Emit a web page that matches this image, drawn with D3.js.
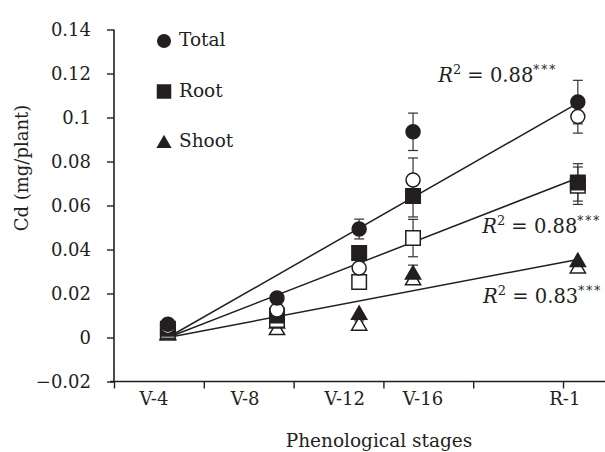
<!DOCTYPE html>
<html>
<head>
<meta charset="utf-8">
<script src="https://cdn.jsdelivr.net/npm/d3@7"></script>
<style>
  html, body { margin: 0; padding: 0; background: #fff; }
  svg { display: block; }
  text { font-family: "DejaVu Serif", "Liberation Serif", serif; fill: #231f20; }
</style>
</head>
<body>
<svg id="chart" width="605" height="452"></svg>
<script>
// ---------- data ----------
const stages = ["V-4", "V-8", "V-12", "V-16", "R-1"];
const stageX = [12.0, 36.3, 54.6, 66.6, 103.3];        // position of sampled points on the x axis
const stageLabelX = [8.9, 29.2, 51.4, 68.8, 100.4];    // position of stage labels
const xTicks = [0, 20, 40, 60, 80, 100];
const yTicks = [-0.02, 0, 0.02, 0.04, 0.06, 0.08, 0.1, 0.12, 0.14];
const yTickLabels = ["\u22120.02", "0", "0.02", "0.04", "0.06", "0.08", "0.1", "0.12", "0.14"];

const totalFilled = [0.006, 0.018, 0.0493, 0.0935, 0.107];
const totalFilledErr = [0, 0, 0.0045, 0.0085, 0.0099];
const totalOpen = [0.005, 0.0125, 0.0316, 0.0716, 0.1004];
const totalOpenErr = [0, 0, 0, 0.01, 0.0075];
const rootFilled = [0.004, 0.010, 0.0384, 0.0643, 0.0705];
const rootFilledErr = [0, 0, 0, 0.0095, 0.0085];
const rootOpen = [0.003, 0.008, 0.0252, 0.0452, 0.069];
const rootOpenErr = [0, 0, 0, 0.0085, 0.0085];
const shootFilled = [0.002, 0.007, 0.011, 0.0293, 0.035];
const shootFilledErr = [0, 0, 0, 0.0036, 0];
const shootOpen = [0.0015, 0.004, 0.006, 0.0266, 0.032];
const shootOpenErr = [0, 0, 0.0015, 0.0015, 0.0015];

// regression fits (value at V-4 and at R-1)
const fitNames = ["Total", "Root", "Shoot"];
const fitStart = [0.0, 0.0, 0.0];
const fitEnd = [0.1065, 0.0725, 0.0355];
const fitR2 = ["0.88", "0.88", "0.83"];

const legendNames = ["Total", "Root", "Shoot"];

// ---------- layout ----------
const svg = d3.select("#chart");
const x = d3.scaleLinear().domain([0, 109.35]).range([114, 605]);
const y = d3.scaleLinear().domain([-0.02, 0.14]).range([381.5, 29.5]);
const ink = "#231f20";

// axes
const yAxis = d3.axisLeft(y).tickValues(yTicks)
  .tickFormat((d, i) => yTickLabels[i]).tickSize(7).tickSizeOuter(0).tickPadding(16);
const gy = svg.append("g").attr("transform", `translate(${x(0)},0)`).call(yAxis);
gy.select(".domain").remove();
gy.append("line").attr("x1", 0).attr("x2", 0).attr("y1", y(0.14)).attr("y2", y(-0.02))
  .attr("stroke", ink).attr("stroke-width", 1.6);
gy.selectAll(".tick line").attr("stroke", ink).attr("stroke-width", 1.4);
gy.selectAll(".tick text").attr("font-size", 18).attr("fill", ink).attr("dy", "0.36em");

const xAxis = d3.axisBottom(x).tickValues(xTicks).tickFormat("").tickSize(7).tickSizeOuter(0);
const gx = svg.append("g").attr("transform", `translate(0,${y(-0.02)})`).call(xAxis);
gx.select(".domain").attr("stroke", ink).attr("stroke-width", 1.6).attr("d", `M${x(0) - 4},0H605`);
gx.selectAll(".tick line").attr("stroke", ink).attr("stroke-width", 1.4);

// stage labels
svg.append("g").selectAll("text").data(stages).join("text")
  .attr("x", (d, i) => x(stageLabelX[i])).attr("y", 405)
  .attr("text-anchor", "middle").attr("font-size", 18).text(d => d);

// axis titles
svg.append("text").attr("transform", "translate(28,168) rotate(-90)")
  .attr("text-anchor", "middle").attr("font-size", 18).text("Cd (mg/plant)");
svg.append("text").attr("x", 379).attr("y", 447)
  .attr("text-anchor", "middle").attr("font-size", 18.5).text("Phenological stages");

// regression lines
const fits = svg.append("g");
fitStart.forEach((s, i) => {
  fits.append("line")
    .attr("x1", x(stageX[0])).attr("y1", y(s))
    .attr("x2", x(stageX[4])).attr("y2", y(fitEnd[i]))
    .attr("stroke", ink).attr("stroke-width", 1.5);
});

// symbols
const circle = d3.symbol().type(d3.symbolCircle).size(Math.PI * 7 * 7);
const square = d3.symbol().type(d3.symbolSquare).size(14.5 * 14.5);
const triangle = d3.symbol().type(d3.symbolTriangle).size(100);

const series = [
  { vals: shootOpen, err: shootOpenErr, sym: triangle, filled: false },
  { vals: shootFilled, err: shootFilledErr, sym: triangle, filled: true },
  { vals: rootOpen, err: rootOpenErr, sym: square, filled: false },
  { vals: rootFilled, err: rootFilledErr, sym: square, filled: true },
  { vals: totalOpen, err: totalOpenErr, sym: circle, filled: false },
  { vals: totalFilled, err: totalFilledErr, sym: circle, filled: true }
];

// error bars first
const eb = svg.append("g").attr("stroke", "#333").attr("stroke-width", 1.2);
series.forEach(s => {
  s.vals.forEach((v, i) => {
    const e = s.err[i];
    if (!e) return;
    const cx = x(stageX[i]);
    eb.append("line").attr("x1", cx).attr("x2", cx).attr("y1", y(v + e)).attr("y2", y(v - e));
    eb.append("line").attr("x1", cx - 5).attr("x2", cx + 5).attr("y1", y(v + e)).attr("y2", y(v + e));
    eb.append("line").attr("x1", cx - 5).attr("x2", cx + 5).attr("y1", y(v - e)).attr("y2", y(v - e));
  });
});

// markers
series.forEach(s => {
  svg.append("g").selectAll("path").data(s.vals).join("path")
    .attr("transform", (v, i) => `translate(${x(stageX[i])},${y(v) + (s.sym === triangle ? 1.5 : 0)})`)
    .attr("d", s.sym())
    .attr("fill", s.filled ? ink : "#fff")
    .attr("stroke", ink).attr("stroke-width", 1.5);
});

// legend
const legSyms = [circle, square, triangle];
const leg = svg.append("g");
legendNames.forEach((n, i) => {
  const ly = 41 + i * 50.5;
  leg.append("path").attr("transform", `translate(164,${ly + (i === 2 ? 1.5 : 0)})`)
    .attr("d", legSyms[i]()).attr("fill", ink);
  leg.append("text").attr("x", 179).attr("y", ly + 5).attr("font-size", 18.5).text(n);
});

// R² annotations
const annPos = [[72.2, 0.1161], [82.0, 0.0475], [82.2, 0.0157]];
fitR2.forEach((r, i) => {
  const t = svg.append("text").attr("x", x(annPos[i][0])).attr("y", y(annPos[i][1])).attr("font-size", 19.5);
  t.append("tspan").attr("font-style", "italic").text("R");
  t.append("tspan").attr("font-size", 13).attr("dy", -8).text("2");
  t.append("tspan").attr("dy", 8).text(" = " + r);
  t.append("tspan").attr("font-size", 12).attr("letter-spacing", 2).attr("dy", -8).text("***");
});
</script>
</body>
</html>
